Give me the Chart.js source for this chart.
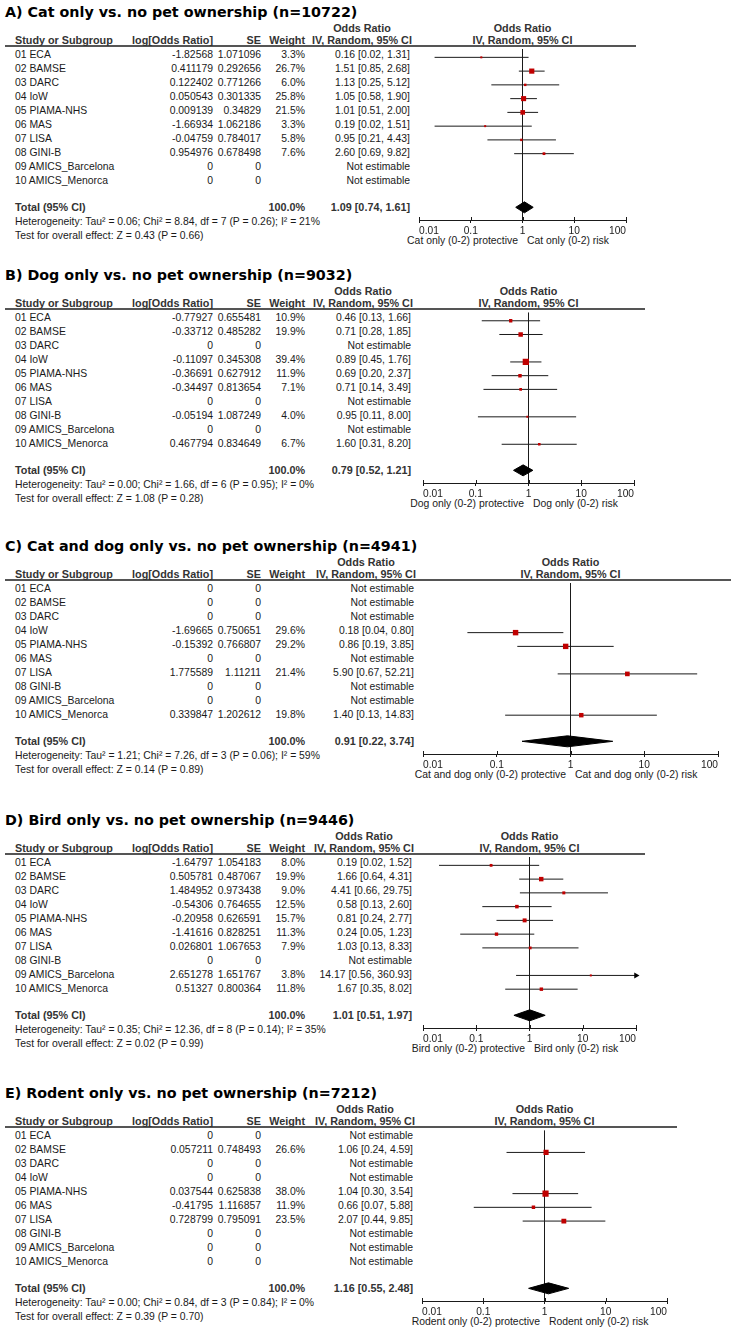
<!DOCTYPE html>
<html>
<head>
<meta charset="utf-8">
<script src="https://cdn.jsdelivr.net/npm/chart.js@4.4.1/dist/chart.umd.min.js"></script>
<style>
    body { margin: 0; background: #fff; width: 731px; height: 1333px; position: relative; overflow: hidden; font-family: "Liberation Sans", Arial, sans-serif; color: #1a1a1a; }
    .panel { position: absolute; left: 0; width: 731px; height: 270px; }
    .t { position: absolute; white-space: nowrap; font-size: 10.4px; line-height: 14px; }
    .b { font-weight: bold; font-size: 10.8px; color: #333; }
    .title { position: absolute; left: 5px; top: 3px; font-family: "DejaVu Sans", sans-serif; font-weight: bold; font-size: 14.3px; line-height: 18px; white-space: nowrap; color: #000; }
    .rule { position: absolute; left: 5px; height: 2px; background: #555; }
    canvas { position: absolute; }
</style>
</head>
<body>
<script>
const studies = ["01 ECA", "02 BAMSE", "03 DARC", "04 IoW", "05 PIAMA-NHS", "06 MAS", "07 LISA", "08 GINI-B", "09 AMICS_Barcelona", "10 AMICS_Menorca"];
const tickValues = [0.01, 0.1, 1, 10, 100];
const tickLabels = ["0.01", "0.1", "1", "10", "100"];

// A) cat only
const catLogOr = ["-1.82568", "0.411179", "0.122402", "0.050543", "0.009139", "-1.66934", "-0.04759", "0.954976", "0", "0"];
const catSe = ["1.071096", "0.292656", "0.771266", "0.301335", "0.34829", "1.062186", "0.784017", "0.678498", "0", "0"];
const catWeight = [3.3, 26.7, 6.0, 25.8, 21.5, 3.3, 5.8, 7.6, null, null];
const catOr = [0.16, 1.51, 1.13, 1.05, 1.01, 0.19, 0.95, 2.60, null, null];
const catLower = [0.02, 0.85, 0.25, 0.58, 0.51, 0.02, 0.21, 0.69, null, null];
const catUpper = [1.31, 2.68, 5.12, 1.90, 2.00, 1.51, 4.43, 9.82, null, null];
const catTotal = [1.09, 0.74, 1.61];
const catHeterogeneity = "Heterogeneity: Tau² = 0.06; Chi² = 8.84, df = 7 (P = 0.26); I² = 21%";
const catOverall = "Test for overall effect: Z = 0.43 (P = 0.66)";

// B) dog only
const dogLogOr = ["-0.77927", "-0.33712", "0", "-0.11097", "-0.36691", "-0.34497", "0", "-0.05194", "0", "0.467794"];
const dogSe = ["0.655481", "0.485282", "0", "0.345308", "0.627912", "0.813654", "0", "1.087249", "0", "0.834649"];
const dogWeight = [10.9, 19.9, null, 39.4, 11.9, 7.1, null, 4.0, null, 6.7];
const dogOr = [0.46, 0.71, null, 0.89, 0.69, 0.71, null, 0.95, null, 1.60];
const dogLower = [0.13, 0.28, null, 0.45, 0.20, 0.14, null, 0.11, null, 0.31];
const dogUpper = [1.66, 1.85, null, 1.76, 2.37, 3.49, null, 8.00, null, 8.20];
const dogTotal = [0.79, 0.52, 1.21];
const dogHeterogeneity = "Heterogeneity: Tau² = 0.00; Chi² = 1.66, df = 6 (P = 0.95); I² = 0%";
const dogOverall = "Test for overall effect: Z = 1.08 (P = 0.28)";

// C) cat and dog only
const catDogLogOr = ["0", "0", "0", "-1.69665", "-0.15392", "0", "1.775589", "0", "0", "0.339847"];
const catDogSe = ["0", "0", "0", "0.750651", "0.766807", "0", "1.11211", "0", "0", "1.202612"];
const catDogWeight = [null, null, null, 29.6, 29.2, null, 21.4, null, null, 19.8];
const catDogOr = [null, null, null, 0.18, 0.86, null, 5.90, null, null, 1.40];
const catDogLower = [null, null, null, 0.04, 0.19, null, 0.67, null, null, 0.13];
const catDogUpper = [null, null, null, 0.80, 3.85, null, 52.21, null, null, 14.83];
const catDogTotal = [0.91, 0.22, 3.74];
const catDogHeterogeneity = "Heterogeneity: Tau² = 1.21; Chi² = 7.26, df = 3 (P = 0.06); I² = 59%";
const catDogOverall = "Test for overall effect: Z = 0.14 (P = 0.89)";

// D) bird only
const birdLogOr = ["-1.64797", "0.505781", "1.484952", "-0.54306", "-0.20958", "-1.41616", "0.026801", "0", "2.651278", "0.51327"];
const birdSe = ["1.054183", "0.487067", "0.973438", "0.764655", "0.626591", "0.828251", "1.067653", "0", "1.651767", "0.800364"];
const birdWeight = [8.0, 19.9, 9.0, 12.5, 15.7, 11.3, 7.9, null, 3.8, 11.8];
const birdOr = [0.19, 1.66, 4.41, 0.58, 0.81, 0.24, 1.03, null, 14.17, 1.67];
const birdLower = [0.02, 0.64, 0.66, 0.13, 0.24, 0.05, 0.13, null, 0.56, 0.35];
const birdUpper = [1.52, 4.31, 29.75, 2.60, 2.77, 1.23, 8.33, null, 360.93, 8.02];
const birdTotal = [1.01, 0.51, 1.97];
const birdHeterogeneity = "Heterogeneity: Tau² = 0.35; Chi² = 12.36, df = 8 (P = 0.14); I² = 35%";
const birdOverall = "Test for overall effect: Z = 0.02 (P = 0.99)";

// E) rodent only
const rodentLogOr = ["0", "0.057211", "0", "0", "0.037544", "-0.41795", "0.728799", "0", "0", "0"];
const rodentSe = ["0", "0.748493", "0", "0", "0.625838", "1.116857", "0.795091", "0", "0", "0"];
const rodentWeight = [null, 26.6, null, null, 38.0, 11.9, 23.5, null, null, null];
const rodentOr = [null, 1.06, null, null, 1.04, 0.66, 2.07, null, null, null];
const rodentLower = [null, 0.24, null, null, 0.30, 0.07, 0.44, null, null, null];
const rodentUpper = [null, 4.59, null, null, 3.54, 5.88, 9.85, null, null, null];
const rodentTotal = [1.16, 0.55, 2.48];
const rodentHeterogeneity = "Heterogeneity: Tau² = 0.00; Chi² = 0.84, df = 3 (P = 0.84); I² = 0%";
const rodentOverall = "Test for overall effect: Z = 0.39 (P = 0.70)";

const panels = [
    { title: "A) Cat only vs. no pet ownership (n=10722)", label: "Cat only (0-2)", logOr: catLogOr, se: catSe, weight: catWeight, or: catOr, lower: catLower, upper: catUpper, total: catTotal, het: catHeterogeneity, overall: catOverall, top: 0, axisLeft: 419, axisRight: 626, ruleEnd: 636, orRight: 410 },
    { title: "B) Dog only vs. no pet ownership (n=9032)", label: "Dog only (0-2)", logOr: dogLogOr, se: dogSe, weight: dogWeight, or: dogOr, lower: dogLower, upper: dogUpper, total: dogTotal, het: dogHeterogeneity, overall: dogOverall, top: 263, axisLeft: 423, axisRight: 634, ruleEnd: 645, orRight: 411 },
    { title: "C) Cat and dog only vs. no pet ownership (n=4941)", label: "Cat and dog only (0-2)", logOr: catDogLogOr, se: catDogSe, weight: catDogWeight, or: catDogOr, lower: catDogLower, upper: catDogUpper, total: catDogTotal, het: catDogHeterogeneity, overall: catDogOverall, top: 534, axisLeft: 423, axisRight: 718, ruleEnd: 731, orRight: 414 },
    { title: "D) Bird only vs. no pet ownership (n=9446)", label: "Bird only (0-2)", logOr: birdLogOr, se: birdSe, weight: birdWeight, or: birdOr, lower: birdLower, upper: birdUpper, total: birdTotal, het: birdHeterogeneity, overall: birdOverall, top: 808, axisLeft: 423, axisRight: 636, ruleEnd: 645, orRight: 412 },
    { title: "E) Rodent only vs. no pet ownership (n=7212)", label: "Rodent only (0-2)", logOr: rodentLogOr, se: rodentSe, weight: rodentWeight, or: rodentOr, lower: rodentLower, upper: rodentUpper, total: rodentTotal, het: rodentHeterogeneity, overall: rodentOverall, top: 1081, axisLeft: 422, axisRight: 667, ruleEnd: 677, orRight: 413 }
];

// row units: 14px per study row, first row 8.5px under the header rule
const rowTop = -8.5 / 14;
const rowBottom = rowTop + 174 / 14;
const totalRow = 10.9;

// RevMan ticks stick out above the axis line too
const upTicks = {
    id: "upTicks",
    afterDraw(chart) {
        const { ctx, scales: { x }, chartArea } = chart;
        ctx.save();
        ctx.strokeStyle = "#1a1a1a";
        ctx.lineWidth = 1;
        tickValues.forEach((value) => {
            const px = Math.round(x.getPixelForValue(value)) + 0.5;
            ctx.beginPath();
            ctx.moveTo(px, chartArea.bottom - 3);
            ctx.lineTo(px, chartArea.bottom);
            ctx.stroke();
        });
        ctx.restore();
    }
};

function addText(parent, text, y, x, align, bold) {
    const item = document.createElement("div");
    item.className = bold ? "t b" : "t";
    item.textContent = text;
    item.style.top = `${y - 7}px`;
    if (align === "right") {
        item.style.right = `${731 - x}px`;
    } else if (align === "center") {
        item.style.left = `${x - 150}px`;
        item.style.width = "300px";
        item.style.textAlign = "center";
    } else {
        item.style.left = `${x}px`;
    }
    parent.appendChild(item);
}

function formatCi(value, lower, upper) {
    return `${value.toFixed(2)} [${lower.toFixed(2)}, ${upper.toFixed(2)}]`;
}

function renderPanel(p) {
    const panel = document.createElement("div");
    panel.className = "panel";
    panel.style.top = `${p.top}px`;
    document.body.appendChild(panel);

    const title = document.createElement("div");
    title.className = "title";
    title.textContent = p.title;
    panel.appendChild(title);

    const rule = document.createElement("div");
    rule.className = "rule";
    rule.style.top = "45px";
    rule.style.width = `${p.ruleEnd - 5}px`;
    panel.appendChild(rule);

    const orCenter = p.orRight - 48;
    const centerX = (p.axisLeft + p.axisRight) / 2;
    addText(panel, "Odds Ratio", 27.7, orCenter, "center", true);
    addText(panel, "Odds Ratio", 27.7, centerX, "center", true);
    addText(panel, "Study or Subgroup", 40.3, 15, "left", true);
    addText(panel, "log[Odds Ratio]", 40.3, 213, "right", true);
    addText(panel, "SE", 40.3, 261, "right", true);
    addText(panel, "Weight", 40.3, 305, "right", true);
    addText(panel, "IV, Random, 95% CI", 40.3, orCenter, "center", true);
    addText(panel, "IV, Random, 95% CI", 40.3, centerX, "center", true);

    studies.forEach((study, i) => {
        const y = 54.5 + 14 * i;
        addText(panel, study, y, 15, "left");
        addText(panel, p.logOr[i], y, 213, "right");
        addText(panel, p.se[i], y, 261, "right");
        if (p.weight[i] !== null) addText(panel, `${p.weight[i].toFixed(1)}%`, y, 305, "right");
        addText(panel, p.or[i] === null ? "Not estimable" : formatCi(p.or[i], p.lower[i], p.upper[i]), y, p.orRight, "right");
    });

    addText(panel, "Total (95% CI)", 206.7, 15, "left", true);
    addText(panel, "100.0%", 206.7, 305, "right", true);
    addText(panel, formatCi(p.total[0], p.total[1], p.total[2]), 206.7, p.orRight, "right", true);
    addText(panel, p.het, 221.7, 15, "left");
    addText(panel, p.overall, 236, 15, "left");

    addText(panel, `${p.label} protective`, 241, centerX - 4.5, "right");
    addText(panel, `${p.label} risk`, 241, centerX + 4.5, "left");

    const canvas = document.createElement("canvas");
    const pad = 14;
    canvas.width = p.axisRight - p.axisLeft + pad * 2;
    canvas.height = 201;
    canvas.style.left = `${p.axisLeft - pad}px`;
    canvas.style.top = "45px";
    panel.appendChild(canvas);

    const squares = [];
    const sizes = [];
    const ciSets = [];
    p.or.forEach((value, i) => {
        if (value === null) return;
        squares.push({ x: value, y: i });
        sizes.push(Math.max(Math.sqrt(p.weight[i]), 2) / Math.SQRT2);
        const clipped = p.upper[i] > 100;
        ciSets.push({
            data: [{ x: p.lower[i], y: i }, { x: Math.min(p.upper[i], 100), y: i }],
            showLine: true,
            borderColor: "#1a1a1a",
            borderWidth: 1,
            pointRadius: clipped ? [0, 3.5] : 0,
            pointStyle: "triangle",
            pointRotation: 90,
            pointBackgroundColor: "#000",
            pointBorderWidth: 0,
            clip: false
        });
    });

    const [est, lo, hi] = p.total;
    const diamond = [
        { x: lo, y: totalRow }, { x: est, y: totalRow - 0.4 }, { x: hi, y: totalRow }, { x: est, y: totalRow + 0.4 }, { x: lo, y: totalRow }
    ];

    new Chart(canvas, {
        type: "scatter",
        data: {
            datasets: [
                { data: squares, pointStyle: "rect", pointRadius: sizes, pointBackgroundColor: "#c00000", pointBorderWidth: 0 },
                { data: diamond, showLine: true, fill: "shape", backgroundColor: "#000", borderColor: "#000", borderWidth: 1, pointRadius: 0, tension: 0 },
                ...ciSets
            ]
        },
        options: {
            responsive: false,
            animation: false,
            events: [],
            devicePixelRatio: 1,
            layout: { padding: { left: pad, right: pad, top: 1, bottom: 0 } },
            plugins: { legend: { display: false }, tooltip: { enabled: false } },
            scales: {
                x: {
                    type: "logarithmic",
                    min: 0.01,
                    max: 100,
                    afterBuildTicks: (scale) => { scale.ticks = tickValues.map((value) => ({ value })); },
                    afterFit: (scale) => { scale.height = 26; },
                    ticks: {
                        align: "inner",
                        autoSkip: false,
                        maxRotation: 0,
                        padding: 2,
                        color: "#1a1a1a",
                        font: { family: "'Liberation Sans', Arial, sans-serif", size: 10.2 },
                        callback: (value) => tickLabels[tickValues.indexOf(value)]
                    },
                    grid: {
                        color: (ctx) => (ctx.tick && ctx.tick.value === 1 ? "#1a1a1a" : "rgba(0,0,0,0)"),
                        lineWidth: 1,
                        drawTicks: true,
                        tickLength: 3,
                        tickColor: "#1a1a1a",
                        tickWidth: 1
                    },
                    border: { display: true, color: "#1a1a1a", width: 1 }
                },
                y: { display: false, reverse: true, min: rowTop, max: rowBottom }
            }
        },
        plugins: [upTicks]
    });
}

panels.forEach(renderPanel);
</script>
</body>
</html>
